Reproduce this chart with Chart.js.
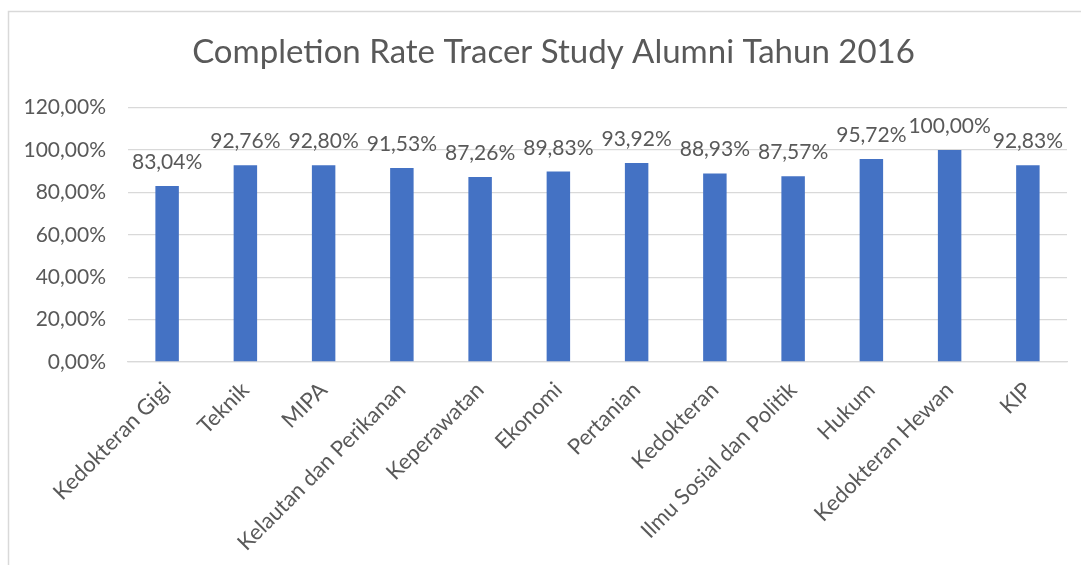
<!DOCTYPE html>
<html>
<head>
<meta charset="utf-8">
<script src="https://cdn.jsdelivr.net/npm/chart.js@4/dist/chart.umd.min.js"></script>
<style>
  html, body { margin: 0; padding: 0; background: #fff; }
  #wrap { width: 1081px; height: 565px; position: relative; }
</style>
</head>
<body>
<div id="wrap"><canvas id="myChart" width="1081" height="565"></canvas></div>
<script>
// data
const faculties = ['Kedokteran Gigi', 'Teknik', 'MIPA', 'Kelautan dan Perikanan', 'Keperawatan', 'Ekonomi',
  'Pertanian', 'Kedokteran', 'Ilmu Sosial dan Politik', 'Hukum', 'Kedokteran Hewan', 'KIP'];
const completionRate = [83.04, 92.76, 92.80, 91.53, 87.26, 89.83, 93.92, 88.93, 87.57, 95.72, 100.00, 92.83];
const yTicks = [0, 20, 40, 60, 80, 100, 120];

const FONT = 'Lato, "Open Sans", sans-serif';
const GREY = '#595959';

const pct = v => v.toFixed(2).replace('.', ',') + '%';

// outer frame (top and left edge of the chart box)
const framePlugin = {
  id: 'frame',
  afterLayout(chart) {
    // title in the original sits a bit right of the canvas centre
    if (chart.titleBlock) chart.titleBlock.left += 40;
  },
  beforeDraw(chart) {
    const c = chart.ctx;
    c.save();
    c.strokeStyle = '#d9d9d9';
    c.lineWidth = 1.5;
    c.beginPath();
    c.moveTo(8.5, 565);
    c.lineTo(8.5, 11.5);
    c.lineTo(1081, 11.5);
    c.stroke();
    c.restore();
  }
};

// value labels above the bars
const valueLabels = {
  id: 'valueLabels',
  afterDatasetsDraw(chart) {
    const c = chart.ctx;
    const meta = chart.getDatasetMeta(0);
    c.save();
    c.font = '21px ' + FONT;
    c.fillStyle = GREY;
    c.textAlign = 'center';
    c.textBaseline = 'alphabetic';
    meta.data.forEach((bar, i) => {
      c.fillText(pct(completionRate[i]), bar.x, bar.y - 17);
    });
    c.restore();
  }
};

const ctx = document.getElementById('myChart').getContext('2d');
const myChart = new Chart(ctx, {
  type: 'bar',
  data: {
    labels: faculties,
    datasets: [{
      data: completionRate,
      backgroundColor: '#4472C4',
      borderWidth: 0,
      barPercentage: 0.3,
      categoryPercentage: 1
    }]
  },
  options: {
    responsive: false,
    animation: false,
    layout: { padding: { top: 0, right: 14, bottom: 0, left: 0 } },
    plugins: {
      legend: { display: false },
      tooltip: { enabled: false },
      title: {
        display: true,
        text: 'Completion Rate Tracer Study Alumni Tahun 2016',
        color: GREY,
        font: { family: FONT, size: 33, weight: 'normal' },
        padding: { top: 33, bottom: 35 }
      }
    },
    scales: {
      y: {
        min: 0,
        max: 120,
        afterBuildTicks(scale) {
          scale.ticks = yTicks.map(v => ({ value: v }));
        },
        afterFit(scale) { scale.width = 128; },
        border: { display: false },
        grid: { color: '#d9d9d9', lineWidth: 1.3, drawTicks: false },
        ticks: {
          padding: 22,
          color: GREY,
          font: { family: FONT, size: 21 },
          callback: v => pct(v)
        }
      },
      x: {
        afterFit(scale) { scale.height = 203; },
        border: { color: '#d9d9d9', width: 1.3 },
        grid: { display: false, drawTicks: false },
        ticks: {
          padding: 15,
          minRotation: 45,
          maxRotation: 45,
          autoSkip: false,
          color: GREY,
          font: { family: FONT, size: 22 }
        }
      }
    }
  },
  plugins: [framePlugin, valueLabels]
});
</script>
</body>
</html>
